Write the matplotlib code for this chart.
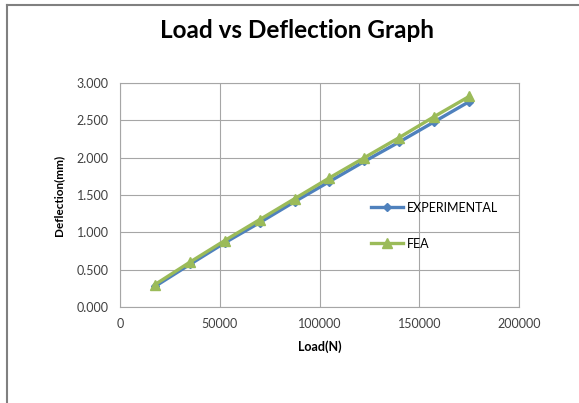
import matplotlib.pyplot as plt
from matplotlib.ticker import FormatStrFormatter

# données
load = [17500, 35000, 52500, 70000, 87500, 105000, 122500, 140000, 157500, 175000]
experimental = [0.275, 0.57, 0.86, 1.13, 1.41, 1.68, 1.95, 2.21, 2.48, 2.75]
fea = [0.30, 0.60, 0.89, 1.17, 1.45, 1.73, 2.00, 2.27, 2.55, 2.82]

plt.rcParams['font.family'] = ['Lato', 'DejaVu Sans']

fig = plt.figure(figsize=(5.79, 4.03), dpi=100)
ax = fig.add_axes([120 / 579, 1 - 307 / 403, 399 / 579, 224 / 403])

# cadre gris autour du graphique
fig.add_artist(plt.Line2D([7 / 579, 7 / 579], [0, 1 - 4.5 / 403], color='#808080', lw=1.5))
fig.add_artist(plt.Line2D([7 / 579, 1], [1 - 4.5 / 403, 1 - 4.5 / 403], color='#808080', lw=1.5))

ax.plot(load, experimental, color='#4F81BD', lw=2.4, marker='D', ms=4.5,
        label='EXPERIMENTAL', zorder=3)
ax.plot(load, fea, color='#9BBB59', lw=2.4, marker='^', ms=7,
        label='FEA', zorder=4)

ax.set_xlim(0, 200000)
ax.set_ylim(0, 3)
ax.set_xticks([0, 50000, 100000, 150000, 200000])
ax.set_yticks([0, 0.5, 1.0, 1.5, 2.0, 2.5, 3.0])
ax.yaxis.set_major_formatter(FormatStrFormatter('%.3f'))
ax.grid(True, color='#A6A6A6', lw=0.8)
ax.set_axisbelow(True)
for s in ax.spines.values():
    s.set_color('#A6A6A6')
ax.tick_params(length=0, labelsize=9, colors='#404040', pad=8)

ax.set_xlabel('Load(N)', fontsize=9, fontweight='bold', labelpad=7)
ax.set_ylabel('Deflection(mm)', fontsize=8.5, fontweight='bold', labelpad=9)
fig.text(297 / 579, 1 - 30 / 403, 'Load vs Deflection Graph', ha='center', va='center',
         fontsize=17.5, fontweight='bold')

ax.legend(loc='upper left', bbox_to_anchor=(0.6, 0.52), frameon=False, fontsize=9,
          labelspacing=1.9, handlelength=2.6, handletextpad=0.3)

fig.savefig('out.png', dpi=100)
